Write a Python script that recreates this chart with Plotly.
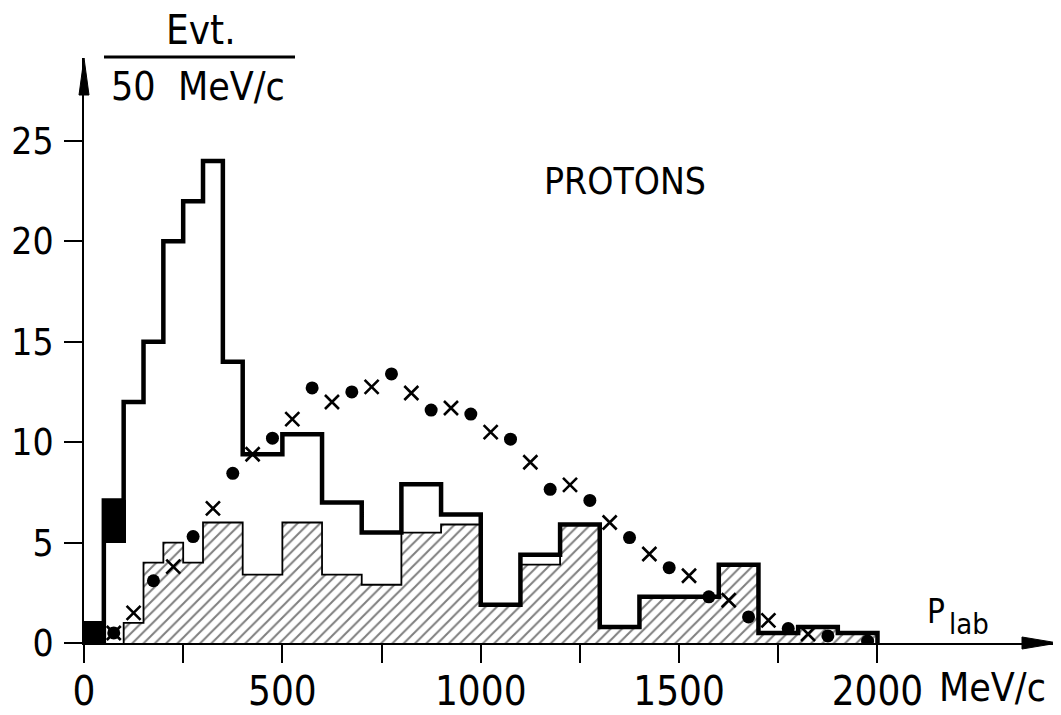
import plotly.graph_objects as go

# ---------------- data ----------------
# heavy-line histogram (all protons): bin edges (MeV/c) and events / 50 MeV/c
heavy_edges = [50, 100, 150, 200, 250, 300, 350, 400, 500, 600, 700, 800, 900,
               1000, 1100, 1200, 1300, 1400, 1600, 1700, 1800, 1900, 2000]
heavy_counts = [7.1, 12, 15, 20, 22, 24, 14, 9.4, 10.4, 7, 5.5, 7.9, 6.4,
                1.9, 4.4, 5.9, 0.8, 2.3, 3.9, 0.5, 0.8, 0.5]

# hatched histogram
hatched_edges = [100, 150, 200, 250, 300, 400, 500, 600, 700, 800, 900, 1000,
                 1100, 1200, 1300, 1400, 1600, 1700, 1800, 1900, 2000]
hatched_counts = [1, 4, 5, 4, 6, 3.4, 6, 3.4, 2.9, 5.5, 5.9, 1.9, 3.9, 5.9,
                  0.8, 2.3, 3.9, 0.5, 0.8, 0.5]

# solid black boxes (low-momentum bins)
box_left = [0, 45]
box_right = [53, 105]
box_bottom = [0, 5.0]
box_top = [1.1, 7.1]

# calculation 1 (dots)
dot_p = [75, 175, 275, 375, 475, 575, 675, 775, 875, 975, 1075, 1175, 1275,
         1375, 1475, 1575, 1675, 1775, 1875, 1975]
dot_counts = [0.5, 3.1, 5.3, 8.45, 10.2, 12.7, 12.5, 13.4, 11.6, 11.4, 10.15,
              7.65, 7.1, 5.25, 3.75, 2.3, 1.3, 0.72, 0.35, 0.1]

# calculation 2 (crosses)
cross_p = [75, 125, 225, 325, 425, 525, 625, 725, 825, 925, 1025, 1125, 1225,
           1325, 1425, 1525, 1625, 1725, 1825]
cross_counts = [0.5, 1.5, 3.8, 6.7, 9.4, 11.15, 12.0, 12.75, 12.45, 11.7, 10.5,
                9.0, 7.87, 6.0, 4.43, 3.35, 2.13, 1.13, 0.45]

x_tickvals = [0, 250, 500, 750, 1000, 1250, 1500, 1750, 2000]
x_ticktext = ["0", "", "500", "", "1000", "", "1500", "", "2000"]
y_tickvals = [0, 5, 10, 15, 20, 25]
y_ticktext = ["0", "5", "10", "15", "20", "25"]

# ---------------- layout constants ----------------
# the page body has an 8 px margin, so the figure is drawn 8 px smaller and
# every page-pixel position below is shifted by OFF
OFF = 8
W, H = 1061 - OFF, 715 - OFF
X0_PX, XTIP_PX, Y0_PX, YTIP_PX = 84, 1058, 643, 58   # page pixels of the axes
ML = X0_PX - OFF
MR = W - (XTIP_PX - OFF)
MT = YTIP_PX - OFF
MB = H - (Y0_PX - OFF)
XMAX = 2455.0
YMAX = 29.13
FONT = "DejaVu Sans Condensed, DejaVu Sans, sans-serif"


def px_x(px):
    return (px - OFF - ML) / (W - ML - MR)


def px_y(py):
    return 1 - (py - OFF - MT) / (H - MT - MB)


def step_path(edges, counts):
    xs = [edges[0]] + edges[:-1] + [edges[-1], edges[-1]]
    ys = [0] + counts + [counts[-1], 0]
    return xs, ys


fig = go.Figure()

# hatched fill
h_centers = [(a + b) / 2 for a, b in zip(hatched_edges[:-1], hatched_edges[1:])]
h_widths = [b - a for a, b in zip(hatched_edges[:-1], hatched_edges[1:])]
fig.add_trace(go.Bar(
    x=h_centers, y=hatched_counts, width=h_widths,
    marker=dict(color="white", line=dict(width=0),
                pattern=dict(shape="/", fgcolor="black", bgcolor="white",
                             size=8, solidity=0.25, fillmode="overlay")),
    hoverinfo="skip", showlegend=False))

# hatched outline
hx, hy = step_path(hatched_edges, hatched_counts)
fig.add_trace(go.Scatter(x=hx, y=hy, mode="lines", line=dict(color="black", width=1.8, shape="hv"),
                         hoverinfo="skip", showlegend=False))

# heavy histogram
kx, ky = step_path(heavy_edges, heavy_counts)
fig.add_trace(go.Scatter(x=kx, y=ky, mode="lines", line=dict(color="black", width=4.5, shape="hv"),
                         hoverinfo="skip", showlegend=False))

# solid black boxes
fig.add_trace(go.Bar(
    x=[(a + b) / 2 for a, b in zip(box_left, box_right)],
    width=[b - a for a, b in zip(box_left, box_right)],
    base=box_bottom,
    y=[t - b for t, b in zip(box_top, box_bottom)],
    marker=dict(color="black", line=dict(width=0)),
    hoverinfo="skip", showlegend=False))

# dots and crosses
fig.add_trace(go.Scatter(x=dot_p, y=dot_counts, mode="markers",
                         marker=dict(symbol="circle", size=13, color="black"),
                         showlegend=False))
fig.add_trace(go.Scatter(x=cross_p, y=cross_counts, mode="markers",
                         marker=dict(symbol="x-thin", size=14, color="black",
                                     line=dict(color="black", width=2.6)),
                         showlegend=False))

# axis arrowheads (page pixels -> paper units, not clipped)
fig.add_shape(type="path", xref="paper", yref="paper",
              path=(f"M {px_x(XTIP_PX - 36)},{px_y(Y0_PX - 6)} L {px_x(XTIP_PX)},{px_y(Y0_PX)} "
                    f"L {px_x(XTIP_PX - 36)},{px_y(Y0_PX + 6)} Z"),
              fillcolor="black", line=dict(color="black", width=1))
fig.add_shape(type="path", xref="paper", yref="paper",
              path=(f"M {px_x(X0_PX - 5)},{px_y(YTIP_PX + 37)} L {px_x(X0_PX)},{px_y(YTIP_PX)} "
                    f"L {px_x(X0_PX + 5)},{px_y(YTIP_PX + 37)} Z"),
              fillcolor="black", line=dict(color="black", width=1))

annots = [
    dict(text="PROTONS", x=px_x(625), y=px_y(181), size=37),
    dict(text="Evt.", x=px_x(201), y=px_y(30), size=40),
    dict(text="50\u00a0\u00a0MeV/c", x=px_x(198), y=px_y(86), size=39),
    dict(text="MeV/c", x=px_x(992), y=px_y(687), size=39),
    dict(text="P", x=px_x(936), y=px_y(611), size=33),
    dict(text="lab", x=px_x(969), y=px_y(624), size=29),
]
for a in annots:
    fig.add_annotation(text=a["text"], x=a["x"], y=a["y"], xref="paper", yref="paper",
                       xanchor="center", yanchor="middle", showarrow=False,
                       font=dict(family=FONT, size=a["size"], color="black"))

# fraction bar
fig.add_shape(type="line", xref="paper", yref="paper",
              x0=px_x(104), x1=px_x(295), y0=px_y(57), y1=px_y(57),
              line=dict(color="black", width=3))

fig.update_layout(
    width=W, height=H,
    margin=dict(l=ML, r=MR, t=MT, b=MB, autoexpand=False),
    paper_bgcolor="white", plot_bgcolor="white",
    barmode="overlay", bargap=0,
    showlegend=False,
    xaxis=dict(range=[0, XMAX], showgrid=False, zeroline=False, automargin=False,
               showline=True, linecolor="black", linewidth=2,
               tickmode="array", tickvals=x_tickvals, ticktext=x_ticktext,
               ticks="outside", ticklen=18, tickwidth=2, tickcolor="black",
               ticklabelstandoff=-6,
               tickfont=dict(family=FONT, size=40, color="black")),
    yaxis=dict(range=[0, YMAX], showgrid=False, zeroline=False, automargin=False,
               showline=True, linecolor="black", linewidth=2,
               tickmode="array", tickvals=y_tickvals, ticktext=y_ticktext,
               ticks="outside", ticklen=18, tickwidth=2, tickcolor="black",
               ticklabelstandoff=3,
               tickfont=dict(family=FONT, size=37, color="black")),
)

fig.write_html("out.html")
